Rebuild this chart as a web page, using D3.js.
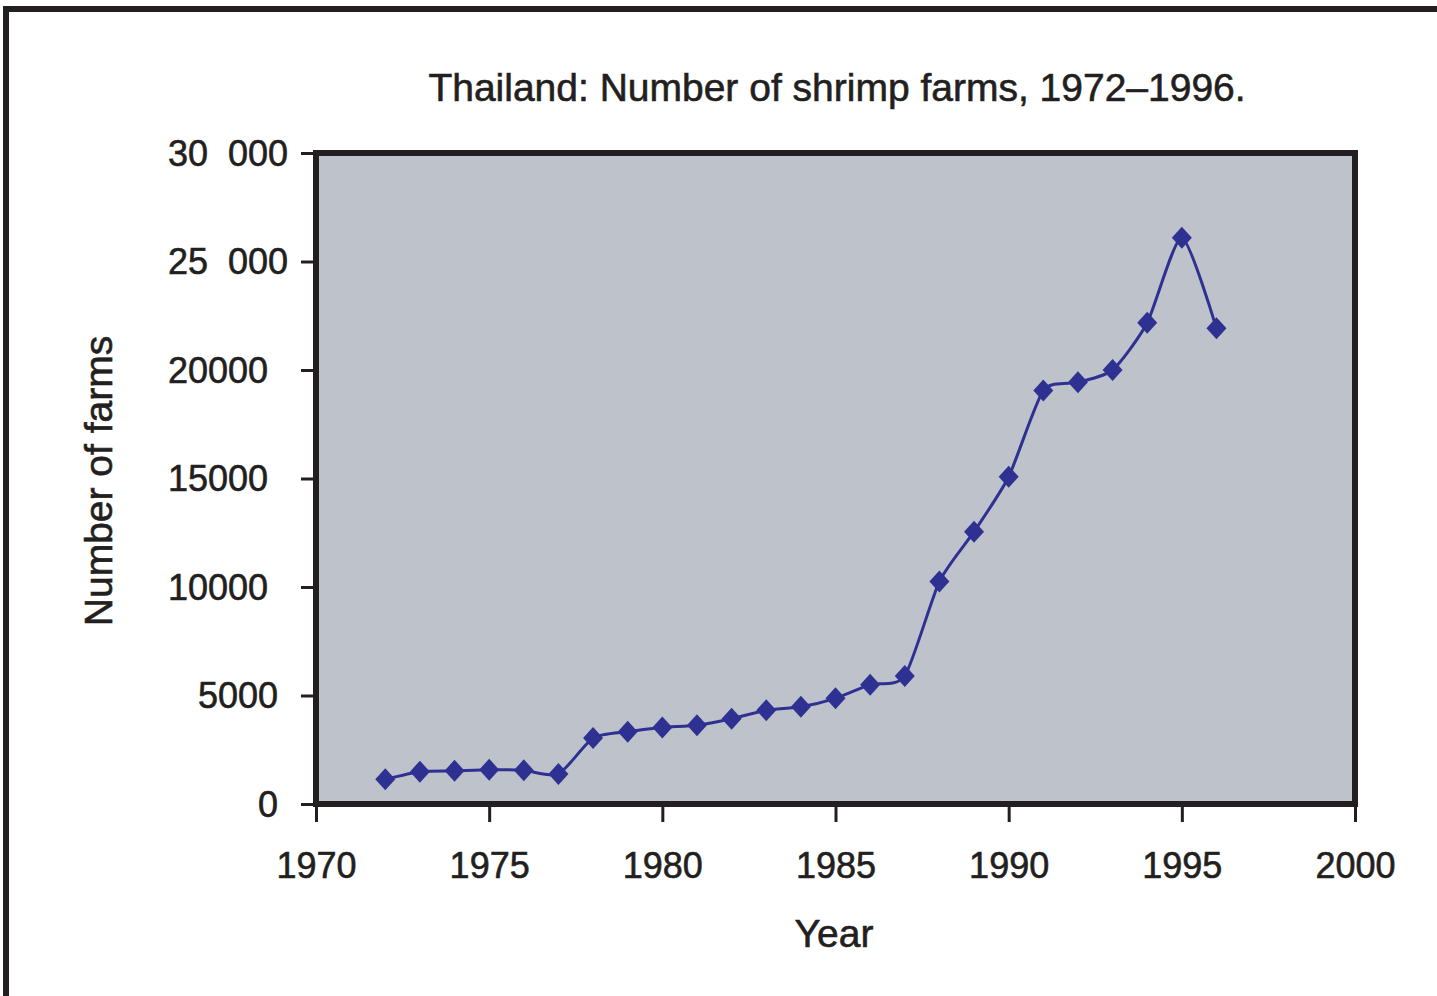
<!DOCTYPE html>
<html>
<head>
<meta charset="utf-8">
<script src="https://cdn.jsdelivr.net/npm/d3@7"></script>
<style>
  body { margin: 0; background: #fff; }
  text { font-family: "Liberation Sans", Arial, sans-serif; fill: #231f20; white-space: pre;
    stroke: #231f20; stroke-width: 0.6px; }
</style>
</head>
<body>
<svg id="mainsvg" width="1437" height="996"></svg>
<script>
const years = [1972, 1973, 1974, 1975, 1976, 1977, 1978, 1979, 1980, 1981, 1982, 1983, 1984,
  1985, 1986, 1987, 1988, 1989, 1990, 1991, 1992, 1993, 1994, 1995, 1996];
const farms = [1140, 1490, 1530, 1580, 1550, 1380, 3040, 3330, 3530, 3630, 3930, 4320, 4480,
  4870, 5500, 5900, 10250, 12550, 15080, 19050, 19430, 20000, 22180, 26100, 21920];
const yTicks = [0, 5000, 10000, 15000, 20000, 25000, 30000];
const yTickLabels = ['0', '5000', '10000', '15000', '20000', '25  000', '30  000'];
const xTicks = [1970, 1975, 1980, 1985, 1990, 1995, 2000];
const xTickLabels = ['1970', '1975', '1980', '1985', '1990', '1995', '2000'];

const svg = d3.select('#mainsvg');
const ink = '#231f20';
const blue = '#2e3192';

// scanned page frame
svg.append('path')
  .attr('d', 'M6,996 L6,9 L1437,9')
  .attr('fill', 'none').attr('stroke', ink).attr('stroke-width', 6);

const xScale = d3.scaleLinear().domain([1970, 2000]).range([316, 1355]);
const yScale = d3.scaleLinear().domain([0, 30000]).range([804, 153]);

// plot area
svg.append('rect')
  .attr('x', xScale(1970)).attr('y', yScale(30000))
  .attr('width', xScale(2000) - xScale(1970))
  .attr('height', yScale(0) - yScale(30000))
  .attr('fill', '#bec2ca').attr('stroke', ink).attr('stroke-width', 6);

// axes (labels in the original are not all right-aligned the same)
const yLabelShift = [-10, -10, -20, -20, -20, 0, 0];
const yAxis = d3.axisLeft(yScale).tickValues(yTicks).tickSize(12).tickPadding(13)
  .tickFormat((d, i) => yTickLabels[i]);
const yAxisGroup = svg.append('g').attr('transform', 'translate(313,0)').call(yAxis);
yAxisGroup.select('.domain').remove();
yAxisGroup.selectAll('line').attr('stroke', ink).attr('stroke-width', 3);
yAxisGroup.selectAll('text').attr('font-size', 36).attr('font-family', null)
  .attr('dy', null).attr('y', 12).attr('dx', (d, i) => yLabelShift[i]).style('fill', ink);

const xAxis = d3.axisBottom(xScale).tickValues(xTicks).tickSize(15)
  .tickFormat((d, i) => xTickLabels[i]);
const xAxisGroup = svg.append('g').attr('transform', 'translate(0,807)').call(xAxis);
xAxisGroup.select('.domain').remove();
xAxisGroup.selectAll('line').attr('stroke', ink).attr('stroke-width', 3);
xAxisGroup.selectAll('text').attr('font-size', 36).attr('font-family', null)
  .attr('dy', null).attr('y', 71).style('fill', ink);

// titles
svg.append('text').attr('x', 837).attr('y', 101).attr('text-anchor', 'middle')
  .attr('font-size', 39).text('Thailand: Number of shrimp farms, 1972–1996.');
svg.append('text').attr('x', 834).attr('y', 947).attr('text-anchor', 'middle')
  .attr('font-size', 39).text('Year');
svg.append('text').attr('transform', 'translate(112,481) rotate(-90)')
  .attr('text-anchor', 'middle').attr('font-size', 39).text('Number of farms');

// series
const points = years.map((y, i) => ({ year: y, value: farms[i] }));
const line = d3.line()
  .x(d => xScale(d.year))
  .y(d => yScale(d.value))
  .curve(d3.curveCardinal.tension(0.35));

svg.append('path').datum(points)
  .attr('d', line)
  .attr('fill', 'none').attr('stroke', blue).attr('stroke-width', 3);

svg.selectAll('.marker').data(points).join('path').attr('class', 'marker')
  .attr('transform', d => `translate(${xScale(d.year)},${yScale(d.value)})`)
  .attr('d', 'M0,-11 L10,0 L0,11 L-10,0 Z')
  .attr('fill', blue);
</script>
</body>
</html>
